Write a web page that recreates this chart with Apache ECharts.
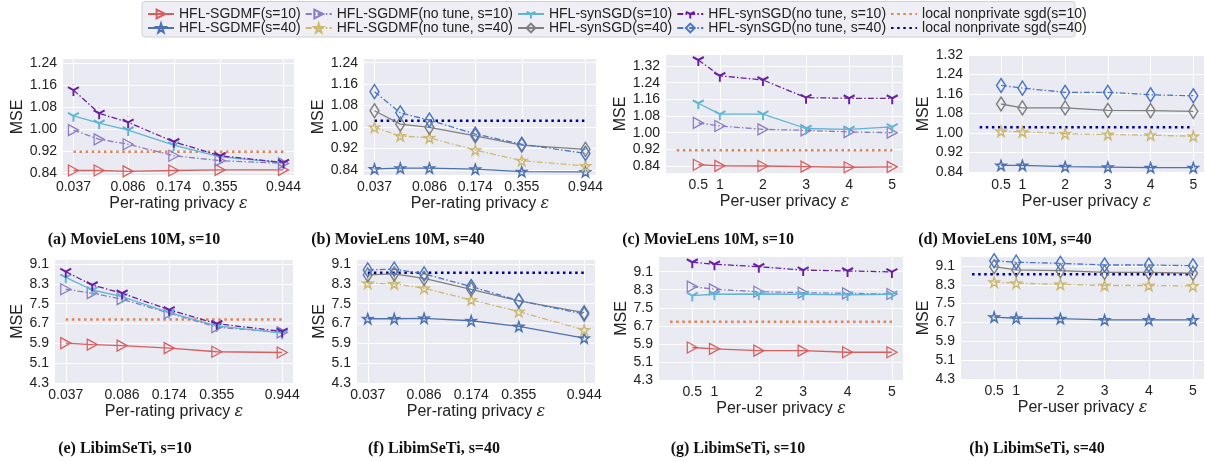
<!DOCTYPE html>
<html><head><meta charset="utf-8">
<script src="https://cdn.jsdelivr.net/npm/echarts@6/dist/echarts.min.js"></script>
<style>html,body{margin:0;padding:0;background:#fff}#c{width:1205px;height:461px}</style>
</head><body><div id="c"></div>
<script>
// ---------- data ----------
const perRatingEps = [0.037, 0.055, 0.086, 0.174, 0.355, 0.944];
const perUserEps = [0.5, 1, 2, 3, 4, 5];
const ratingTicks = [0.037, 0.086, 0.174, 0.355, 0.944];
const userTicks = [0.5, 1, 2, 3, 4, 5];
const mseTicksML6 = [0.84, 0.92, 1.00, 1.08, 1.16, 1.24];
const mseTicksML7 = [0.84, 0.92, 1.00, 1.08, 1.16, 1.24, 1.32];
const mseTicksLibim = [4.3, 5.1, 5.9, 6.7, 7.5, 8.3, 9.1];
const ratingLineSpan = [0.037, 0.944];
const userLineSpan = [0, 5];

// (a) MovieLens 10M, s=10, per-rating
const a_sgdmf = [0.848, 0.848, 0.845, 0.848, 0.850, 0.850];
const a_sgdmfNoTune = [0.996, 0.962, 0.944, 0.902, 0.884, 0.874];
const a_synsgd = [1.048, 1.021, 0.996, 0.941, 0.898, 0.877];
const a_synsgdNoTune = [1.142, 1.057, 1.024, 0.953, 0.902, 0.877];
const a_local = 0.917;
// (b) MovieLens 10M, s=40, per-rating
const b_sgdmf = [0.844, 0.847, 0.847, 0.843, 0.834, 0.833];
const b_sgdmfNoTune = [0.999, 0.967, 0.960, 0.914, 0.875, 0.855];
const b_synsgd = [1.061, 1.011, 0.999, 0.967, 0.933, 0.917];
const b_synsgdNoTune = [1.132, 1.053, 1.026, 0.974, 0.936, 0.902];
const b_local = 1.024;
// (c) MovieLens 10M, s=10, per-user
const c_sgdmf = [0.846, 0.841, 0.840, 0.837, 0.834, 0.836];
const c_sgdmfNoTune = [1.047, 1.032, 1.016, 1.011, 1.003, 1.000];
const c_synsgd = [1.141, 1.089, 1.089, 1.020, 1.016, 1.028];
const c_synsgdNoTune = [1.349, 1.273, 1.253, 1.168, 1.165, 1.165];
const c_local = 0.916;
// (d) MovieLens 10M, s=40, per-user
const d_sgdmf = [0.867, 0.867, 0.862, 0.860, 0.858, 0.858];
const d_sgdmfNoTune = [1.007, 1.005, 0.997, 0.994, 0.991, 0.987];
const d_synsgd = [1.119, 1.103, 1.103, 1.093, 1.092, 1.089];
const d_synsgdNoTune = [1.195, 1.184, 1.167, 1.167, 1.157, 1.153];
const d_local = 1.024;
// (e) LibimSeTi, s=10, per-rating
const e_sgdmf = [5.91, 5.85, 5.81, 5.71, 5.56, 5.53];
const e_sgdmfNoTune = [8.08, 7.92, 7.68, 7.12, 6.55, 6.34];
const e_synsgd = [8.56, 8.05, 7.78, 7.14, 6.60, 6.31];
const e_synsgdNoTune = [8.79, 8.25, 7.92, 7.25, 6.69, 6.38];
const e_local = 6.86;
// (f) LibimSeTi, s=40, per-rating
const f_sgdmf = [6.89, 6.89, 6.91, 6.81, 6.58, 6.11];
const f_sgdmfNoTune = [8.32, 8.30, 8.12, 7.65, 7.18, 6.44];
const f_synsgd = [8.66, 8.70, 8.52, 8.08, 7.61, 7.14];
const f_synsgdNoTune = [8.86, 8.89, 8.70, 8.19, 7.62, 7.08];
const f_local = 8.75;
// (g) LibimSeTi, s=10, per-user
const g_sgdmf = [5.74, 5.68, 5.60, 5.60, 5.53, 5.53];
const g_sgdmfNoTune = [8.44, 8.32, 8.21, 8.17, 8.14, 8.11];
const g_synsgd = [8.04, 8.10, 8.11, 8.10, 8.07, 8.10];
const g_synsgdNoTune = [9.52, 9.43, 9.32, 9.17, 9.13, 9.09];
const g_local = 6.88;
// (h) LibimSeTi, s=40, per-user
const h_sgdmf = [6.93, 6.88, 6.86, 6.81, 6.81, 6.81];
const h_sgdmfNoTune = [8.41, 8.37, 8.32, 8.27, 8.27, 8.25];
const h_synsgd = [9.07, 8.93, 8.90, 8.83, 8.83, 8.79];
const h_synsgdNoTune = [9.32, 9.26, 9.21, 9.14, 9.14, 9.11];
const h_local = 8.75;

const captions = ['(a) MovieLens 10M, s=10', '(b) MovieLens 10M, s=40', '(c) MovieLens 10M, s=10', '(d) MovieLens 10M, s=40',
                  '(e) LibimSeTi, s=10', '(f) LibimSeTi, s=40', '(g) LibimSeTi, s=10', '(h) LibimSeTi, s=40'];
const names10 = ['HFL-SGDMF(s=10)', 'HFL-SGDMF(no tune, s=10)', 'HFL-synSGD(s=10)', 'HFL-synSGD(no tune, s=10)', 'local nonprivate sgd(s=10)'];
const names40 = ['HFL-SGDMF(s=40)', 'HFL-SGDMF(no tune, s=40)', 'HFL-synSGD(s=40)', 'HFL-synSGD(no tune, s=40)', 'local nonprivate sgd(s=40)'];

// ---------- styles ----------
const FONT = '"Liberation Sans", Arial, Helvetica, sans-serif';
const TXT = '#222222';
const TRI = 'path://M0,0L10,6L0,12Z';
const YSYM = 'path://M0,0L0,10M0,0L-8.66,-5M0,0L8.66,-5M0,-10L0,-9.95';
const STAR = 'path://M50,0L61.8,35.1L97.6,34.5L69.1,56.9L79.4,90.5L50,70L20.6,90.5L30.9,56.9L2.4,34.5L38.2,35.1Z';
const DASHDOT = [6, 2.2, 1.5, 2.2];
const DOTS = [2.5, 3.6];
const sty = {
  'HFL-SGDMF(s=10)':           {c: '#d65f5f', sym: TRI, size: [10, 11], dash: 'solid', bw: 1.3},
  'HFL-SGDMF(no tune, s=10)':  {c: '#8c7cc4', sym: TRI, size: [10, 11], dash: DASHDOT, bw: 1.3},
  'HFL-synSGD(s=10)':          {c: '#5fb6d3', sym: YSYM, size: [11, 12], dash: 'solid', bw: 2},
  'HFL-synSGD(no tune, s=10)': {c: '#6a1fa3', sym: YSYM, size: [11, 12], dash: DASHDOT, bw: 2},
  'local nonprivate sgd(s=10)':{c: '#dd8452', dash: DOTS, lw: 2.5},
  'HFL-SGDMF(s=40)':           {c: '#4c72b0', sym: STAR, size: 10, dash: 'solid', bw: 1.5},
  'HFL-SGDMF(no tune, s=40)':  {c: '#ccb974', sym: STAR, size: 10, dash: DASHDOT, bw: 1.5},
  'HFL-synSGD(s=40)':          {c: '#808080', sym: 'diamond', size: [9, 14], dash: 'solid', bw: 1.5},
  'HFL-synSGD(no tune, s=40)': {c: '#4a76c4', sym: 'diamond', size: [9, 14], dash: DASHDOT, bw: 1.5},
  'local nonprivate sgd(s=40)':{c: '#00008b', dash: DOTS, lw: 2.5}
};

// ---------- panels (layout) ----------
const panels = [
  {g: [63, 59, 231, 116],  kind: 'rating', y: [0.8316, 1.2557], ticks: mseTicksML6, dec: 2, ng: 37, s: 10,
   d: [a_sgdmf, a_sgdmfNoTune, a_synsgd, a_synsgdNoTune], local: a_local, cap: [134, 240]},
  {g: [364, 59, 232, 116], kind: 'rating', y: [0.8214, 1.2538], ticks: mseTicksML6, dec: 2, ng: 37, s: 40,
   d: [b_sgdmf, b_sgdmfNoTune, b_synsgd, b_synsgdNoTune], local: b_local, cap: [398, 240]},
  {g: [666, 55, 237, 118], kind: 'user', y: [0.8064, 1.3728], ticks: mseTicksML7, dec: 2, ng: 36, s: 10,
   d: [c_sgdmf, c_sgdmfNoTune, c_synsgd, c_synsgdNoTune], local: c_local, cap: [708, 240]},
  {g: [969, 55, 235, 118], kind: 'user', y: [0.836, 1.32], ticks: mseTicksML7, dec: 2, ng: 37, s: 40,
   d: [d_sgdmf, d_sgdmfNoTune, d_synsgd, d_synsgdNoTune], local: d_local, cap: [1005, 240]},
  {g: [55, 260, 238, 123], kind: 'rating', y: [4.3, 9.26], ticks: mseTicksLibim, dec: 1, ng: 28, s: 10,
   d: [e_sgdmf, e_sgdmfNoTune, e_synsgd, e_synsgdNoTune], local: e_local, cap: [125, 449]},
  {g: [357, 260, 238, 123], kind: 'rating', y: [4.3, 9.26], ticks: mseTicksLibim, dec: 1, ng: 29, s: 40,
   d: [f_sgdmf, f_sgdmfNoTune, f_synsgd, f_synsgdNoTune], local: f_local, cap: [434, 449]},
  {g: [659, 257, 244, 123], kind: 'user', y: [4.3, 9.75], ticks: mseTicksLibim, dec: 1, ng: 28, s: 10,
   d: [g_sgdmf, g_sgdmfNoTune, g_synsgd, g_synsgdNoTune], local: g_local, cap: [738, 449]},
  {g: [961, 257, 243, 122], kind: 'user', y: [4.3, 9.48], ticks: mseTicksLibim, dec: 1, ng: 28, s: 40,
   d: [h_sgdmf, h_sgdmfNoTune, h_synsgd, h_synsgdNoTune], local: h_local, cap: [1037, 449]}
];

const grid = [], xAxis = [], yAxis = [], series = [], graphic = [];
panels.forEach((p, i) => {
  grid.push({left: p.g[0], top: p.g[1], width: p.g[2], height: p.g[3], show: true,
             backgroundColor: '#eaeaf2', borderWidth: 0, containLabel: false});
  const isR = p.kind === 'rating';
  xAxis.push({
    gridIndex: i, type: isR ? 'log' : 'value', logBase: 10,
    min: isR ? 0.0315 : -0.25, max: isR ? 1.11 : 5.25,
    name: (isR ? 'Per-rating privacy ' : 'Per-user privacy ') + '{e|ε}',
    nameLocation: 'middle', nameGap: 21,
    nameTextStyle: {fontSize: 16, color: TXT, fontFamily: FONT,
                    rich: {e: {fontSize: 16, fontStyle: 'italic', color: TXT, fontFamily: '"DejaVu Serif", serif'}}},
    axisLine: {show: false},
    axisTick: {show: false, customValues: isR ? ratingTicks : userTicks},
    axisLabel: {customValues: isR ? ratingTicks : userTicks, fontSize: 14, color: TXT, fontFamily: FONT, margin: 5,
                formatter: v => String(+(+v).toFixed(3))},
    splitLine: {show: true, lineStyle: {color: '#ffffff', width: 1}},
    minorTick: {show: false}, minorSplitLine: {show: false}
  });
  yAxis.push({
    gridIndex: i, type: 'value', min: p.y[0], max: p.y[1],
    name: 'MSE', nameLocation: 'middle', nameGap: p.ng, nameRotate: 90,
    nameTextStyle: {fontSize: 16, color: TXT, fontFamily: FONT},
    axisLine: {show: false},
    axisTick: {show: false, customValues: p.ticks},
    axisLabel: {customValues: p.ticks, fontSize: 14, color: TXT, fontFamily: FONT, margin: 6,
                formatter: v => (+v).toFixed(p.dec)},
    splitLine: {show: true, lineStyle: {color: '#ffffff', width: 1}}
  });
  const names = p.s === 10 ? names10 : names40;
  const xs = isR ? perRatingEps : perUserEps;
  p.d.forEach((ys, k) => {
    const st = sty[names[k]];
    series.push({
      name: names[k], type: 'line', xAxisIndex: i, yAxisIndex: i,
      data: xs.map((x, j) => [x, ys[j]]),
      symbol: st.sym, symbolSize: st.size, symbolKeepAspect: false,
      showSymbol: true, animation: false, z: 2 + k,
      itemStyle: {color: 'rgba(0,0,0,0)', borderColor: st.c, borderWidth: st.bw},
      lineStyle: {color: st.c, width: 1.3, type: st.dash},
      emphasis: {disabled: true}
    });
  });
  const ln = names[4], lst = sty[ln];
  const span = isR ? ratingLineSpan : userLineSpan;
  series.push({
    name: ln, type: 'line', xAxisIndex: i, yAxisIndex: i,
    data: span.map(x => [x, p.local]), symbol: 'circle', symbolSize: 0, showSymbol: false,
    animation: false, z: 1,
    itemStyle: {color: 'rgba(0,0,0,0)', borderColor: 'rgba(0,0,0,0)', borderWidth: 0},
    lineStyle: {color: lst.c, width: lst.lw, type: lst.dash, cap: 'butt'},
    emphasis: {disabled: true}
  });
  graphic.push({type: 'text', x: p.cap[0], y: p.cap[1], z: 100,
    style: {text: captions[i], textAlign: 'center', textVerticalAlign: 'middle',
            font: 'bold 16px "Liberation Serif", "Times New Roman", serif', fill: '#111'}});
});
graphic.push({type: 'rect', shape: {x: 142, y: 1.5, width: 933, height: 35.5, r: 3}, z: -1,
  style: {fill: '#eeeef4', stroke: '#cfcfd6', lineWidth: 1}});

const legendCommon = {
  orient: 'horizontal', left: 147, padding: 0, itemGap: 4, itemWidth: 26, itemHeight: 11,
  textStyle: {fontSize: 14, color: TXT, fontFamily: FONT}, selectedMode: false
};
const legend = [
  Object.assign({}, legendCommon, {top: 7, data: names10}),
  Object.assign({}, legendCommon, {top: 21, data: names40})
];

const chart = echarts.init(document.getElementById('c'), null, {renderer: 'canvas'});
chart.setOption({animation: false, backgroundColor: '#ffffff', grid, xAxis, yAxis, series, legend, graphic});
</script></body></html>
